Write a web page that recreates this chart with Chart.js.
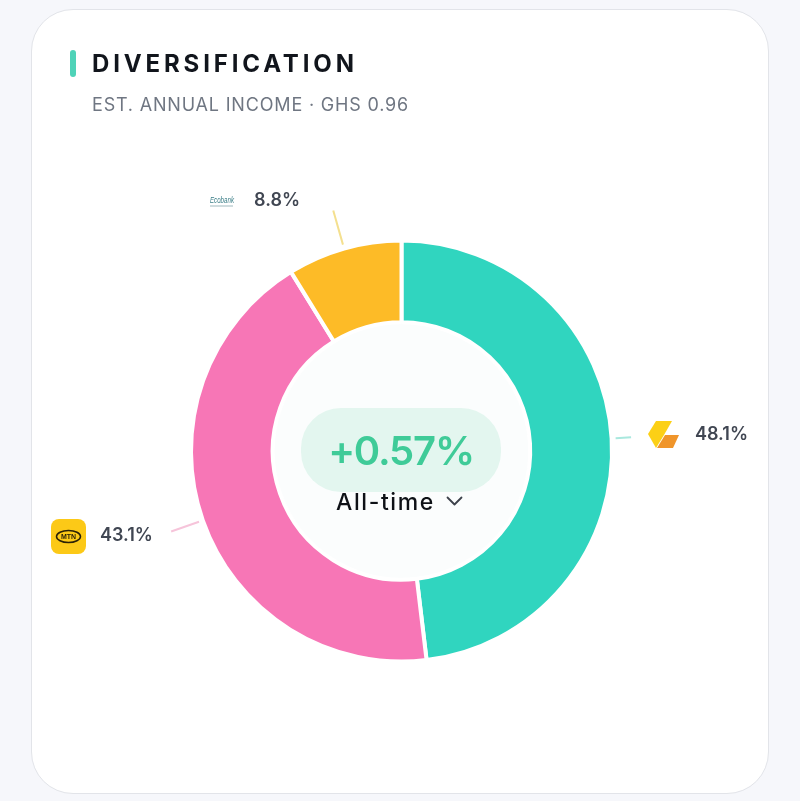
<!DOCTYPE html>
<html lang="en">
<head>
<meta charset="utf-8">
<title>Diversification</title>
<script src="https://cdn.jsdelivr.net/npm/chart.js@4"></script>
<style>
  * { box-sizing: border-box; }
  html, body { margin: 0; padding: 0; width: 800px; height: 801px; overflow: hidden; background: #f6f7fb; font-family: Inter, "Noto Sans", sans-serif; }
  .card { position: absolute; left: 31px; top: 9px; width: 738px; height: 785px; background: #fff; border: 1px solid #e2e4e9; border-radius: 42px; }
  canvas { position: absolute; left: 0; top: 0; }
  .accent { position: absolute; left: 70px; top: 50px; width: 6px; height: 27px; border-radius: 3px; background: #4fd3b8; }
  .title { position: absolute; left: 92px; top: 49px; font-size: 24px; line-height: 29px; font-weight: 700; letter-spacing: 3.85px; color: #11151c; white-space: nowrap; }
  .subtitle { position: absolute; left: 92px; top: 94px; font-size: 18px; line-height: 22px; letter-spacing: 0.82px; color: #6f7682; white-space: nowrap; }
  .pill { position: absolute; left: 301px; top: 408px; width: 200px; height: 84px; border-radius: 40px; background: #e3f6ef; }
  .gain { position: absolute; left: 301px; top: 428px; width: 200px; text-align: center; font-size: 40px; line-height: 46px; font-weight: 600; letter-spacing: -1.2px; color: #3fcb98; }
  .period { position: absolute; left: 336px; top: 488px; font-size: 23px; line-height: 28px; font-weight: 500; letter-spacing: 1.6px; color: #0e1116; white-space: nowrap; }
  svg.logo { position: absolute; overflow: visible; }
</style>
</head>
<body>
<div class="card"></div>
<canvas id="donut" width="800" height="801"></canvas>
<div class="accent"></div>
<div class="title">DIVERSIFICATION</div>
<div class="subtitle">EST. ANNUAL INCOME · GHS 0.96</div>
<div class="pill"></div>
<div class="gain" id="gain"></div>
<div class="period" id="period"></div>

<svg class="logo" style="left:446px;top:496px" width="17" height="11">
  <path d="M1.5 1.5 L8.5 8.5 L15.5 1.5" fill="none" stroke="#3d424b" stroke-width="1.8" stroke-linecap="round" stroke-linejoin="round"/>
</svg>

<!-- provider logos -->
<svg class="logo" style="left:648px;top:420px" width="32" height="30">
  <path d="M8 1 L24 1 L16 15 L8 28 L0 14 Z" fill="#fcd016"/>
  <path d="M17 15 L31 15 L25 28 L9 28 Z" fill="#f0952a"/>
</svg>
<svg class="logo" style="left:51px;top:519px" width="35" height="35">
  <rect width="35" height="35" rx="8" fill="#fcc917"/>
  <ellipse cx="17.5" cy="17.5" rx="12" ry="6" fill="none" stroke="#2b2106" stroke-width="1.5"/>
  <text x="17.5" y="20" text-anchor="middle" font-family="Liberation Sans" font-size="7" font-weight="700" fill="#2b2106">MTN</text>
</svg>
<svg class="logo" style="left:210px;top:194px" width="25" height="14">
  <text x="0" y="9" font-family="Liberation Sans" font-size="9.5" font-style="italic" textLength="24" lengthAdjust="spacingAndGlyphs" fill="#3c7f88">Ecobank</text>
  <rect x="0" y="11.5" width="23" height="1" fill="#9fb9bd"/>
</svg>

<script>
// portfolio split by provider
const categories = ['Zest', 'MTN', 'Ecobank'];
const shares = [48.1, 43.1, 8.8];
const sliceColors = ['#30d5bf', '#f776b6', '#fdbb27'];
const leaderColors = ['#a9e8de', '#f6c4da', '#f4e08f'];
const leaderEnds = [230, 244, 250];
const gainLabel = '+0.57%';
const periodLabel = 'All-time';

document.getElementById('gain').textContent = gainLabel;
document.getElementById('period').textContent = periodLabel;

// percent labels sit next to the logos, anchored by left edge
const labelSpots = [
  { x: 695, y: 435 },
  { x: 100, y: 536 },
  { x: 254, y: 201 }
];

// faint fill behind the center of the ring
const holeFill = {
  id: 'holeFill',
  beforeDatasetsDraw(chart) {
    const arc = chart.getDatasetMeta(0).data[0];
    const { ctx } = chart;
    ctx.save();
    ctx.fillStyle = '#fbfdfd';
    ctx.beginPath();
    ctx.arc(arc.x, arc.y, arc.innerRadius, 0, Math.PI * 2);
    ctx.fill();
    ctx.restore();
  }
};

// thin leader line out of each slice, plus its percentage
const sliceLabels = {
  id: 'sliceLabels',
  afterDatasetsDraw(chart) {
    const { ctx } = chart;
    chart.getDatasetMeta(0).data.forEach((arc, i) => {
      const mid = (arc.startAngle + arc.endAngle) / 2;
      const start = arc.outerRadius + 4;
      ctx.save();
      ctx.strokeStyle = leaderColors[i];
      ctx.lineWidth = 2;
      ctx.beginPath();
      ctx.moveTo(arc.x + Math.cos(mid) * start, arc.y + Math.sin(mid) * start);
      ctx.lineTo(arc.x + Math.cos(mid) * leaderEnds[i], arc.y + Math.sin(mid) * leaderEnds[i]);
      ctx.stroke();
      ctx.fillStyle = '#404652';
      ctx.font = '600 18px Inter, "Noto Sans", sans-serif';
      ctx.textBaseline = 'middle';
      ctx.fillText(shares[i] + '%', labelSpots[i].x, labelSpots[i].y);
      ctx.restore();
    });
  }
};

new Chart(document.getElementById('donut'), {
  type: 'doughnut',
  data: {
    labels: categories,
    datasets: [{
      data: shares,
      backgroundColor: sliceColors,
      borderColor: '#ffffff',
      borderWidth: 4,
      hoverOffset: 0
    }]
  },
  options: {
    responsive: false,
    animation: false,
    radius: 210.5,
    cutout: 127.5,
    layout: { padding: { left: 191, right: 188, top: 240, bottom: 139 } },
    plugins: { legend: { display: false }, tooltip: { enabled: false } }
  },
  plugins: [holeFill, sliceLabels]
});
</script>
</body>
</html>
